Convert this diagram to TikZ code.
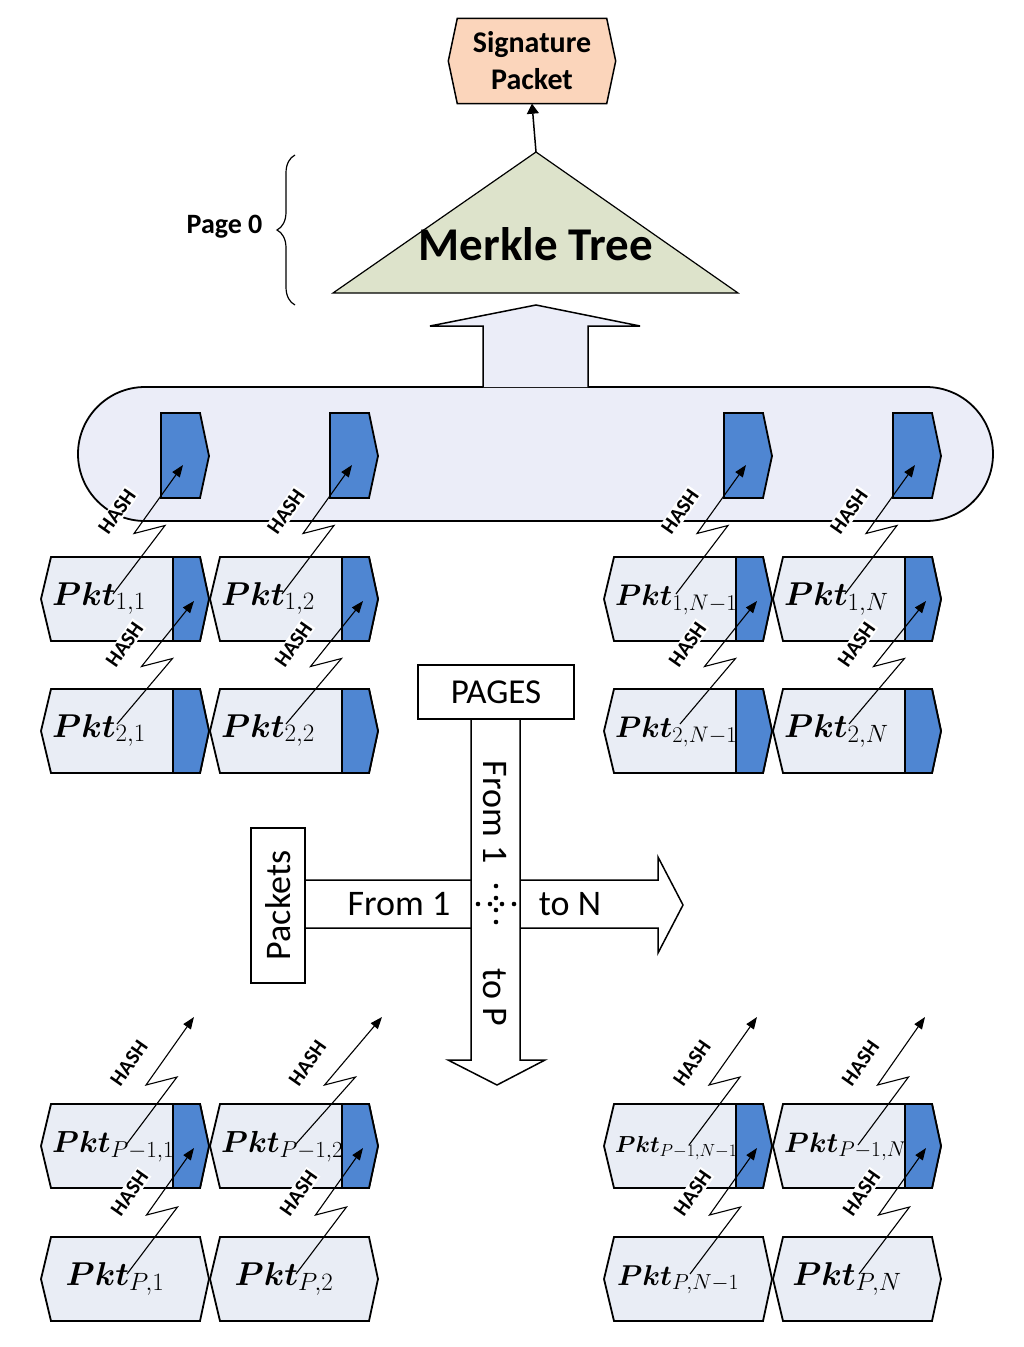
\RequirePackage{fix-cm}
\documentclass[tikz,border=0pt]{standalone}
\usepackage{fontspec}
\setmainfont{Carlito}
\usepackage{bm}
\usetikzlibrary{arrows.meta,calc,decorations.pathreplacing,backgrounds}
\DeclareMathSizes{33}{33}{25}{18}

\definecolor{pktfill}{RGB}{233,237,245}
\definecolor{hashblue}{RGB}{79,134,210}
\definecolor{capsfill}{RGB}{235,237,248}
\definecolor{treefill}{RGB}{221,227,203}
\definecolor{sigfill}{RGB}{251,213,187}

\tikzset{
  pktline/.style={draw, line width=1.8pt},
  pkttext/.style={inner sep=0pt, font=\fontsize{33}{40}\selectfont},
  hashlbl/.style={fill=white, inner sep=1.5pt, rotate=55, font=\bfseries\fontsize{21}{22}\selectfont},
  hash/.style={line width=1.1pt, -{Triangle[length=12pt,width=9pt]}},
  bigarrow/.style={fill=white, line width=1.5pt},
  axistext/.style={inner sep=0pt, font=\fontsize{36}{40}\selectfont}
}

% label of a packet, squeezed when too wide
\newsavebox\pktsave
\newcommand{\pktlbl}[1]{\sbox\pktsave{$\bm{Pkt}_{#1}$}%
  \ifdim\wd\pktsave>122pt\resizebox{122pt}{!}{\usebox\pktsave}\else\usebox\pktsave\fi}

% packet with hash tail: x0, top, name, subscript
\newcommand{\pkt}[4]{%
  \draw[pktline, fill=pktfill] ({#1},{#2+42}) -- ({#1+10},{#2}) -- ({#1+159},{#2}) -- ({#1+168},{#2+42}) -- ({#1+159},{#2+84}) -- ({#1+10},{#2+84}) -- cycle;
  \draw[pktline, fill=hashblue] ({#1+132},{#2}) -- ({#1+159},{#2}) -- ({#1+168},{#2+42}) -- ({#1+159},{#2+84}) -- ({#1+132},{#2+84}) -- cycle;
  \node[pkttext, anchor=base west] (#3) at ({#1+11},{#2+48}) {\pktlbl{#4}};
  \coordinate (#3-h) at ({#1+153},{#2+44});
}
% last packet of a page, no tail
\newcommand{\pktend}[4]{%
  \draw[pktline, fill=pktfill] ({#1},{#2+42}) -- ({#1+10},{#2}) -- ({#1+159},{#2}) -- ({#1+168},{#2+42}) -- ({#1+159},{#2+84}) -- ({#1+10},{#2+84}) -- cycle;
  \node[pkttext, anchor=base] (#3) at ({#1+74},{#2+48}) {\pktlbl{#4}};
}
% zigzag hash arrow with its label
\newcommand{\hasharrow}[2]{%
  \node[hashlbl] (lbl-#1) at ($(#1)!.5!(#2)+(-31,-18)$) {HASH};
  \draw[hash] (#1) -- ($(#1)!.5!(#2)+(17,-4)$) -- ($(#1)!.5!(#2)+(-14,4)$) -- (#2);
}

\begin{document}
\begin{tikzpicture}[x=1pt, y=-1pt]
  \useasboundingbox (0,0) rectangle (1024,1347);

  % signature packet
  \node[minimum width=149pt, minimum height=85pt, inner sep=0pt, align=center,
        font=\bfseries\fontsize{30}{37}\selectfont] (sig) at (532,61) {Signature\\Packet};
  \begin{scope}[on background layer]
    \filldraw[fill=sigfill, line width=1.5pt] (sig.north west) -- (sig.north east) -- ($(sig.east)+(9,0)$)
      -- (sig.south east) -- (sig.south west) -- ($(sig.west)+(-9,0)$) -- cycle;
  \end{scope}

  % merkle tree
  \coordinate (apex) at (536,152);
  \filldraw[fill=treefill, line width=1.2pt] (apex) -- (738,293) -- (333,293) -- cycle;
  \node[font=\bfseries\fontsize{47}{50}\selectfont, anchor=base] (merkle) at (536,260) {Merkle Tree};
  \draw[line width=1.5pt, -{Triangle[length=10pt,width=12pt]}] (apex) -- (sig.south);

  % page 0
  \draw[line width=1.2pt, decorate, decoration={brace, amplitude=18pt}] (295,305) -- (295,155);
  \node[font=\bfseries\fontsize{28}{30}\selectfont, anchor=base east] (page0) at (266,233) {Page 0};

  % hashes of page 1
  \filldraw[fill=capsfill, line width=1.8pt, rounded corners=67pt] (78,387) rectangle (993,521);
  \filldraw[fill=capsfill, line width=1.5pt] (483,387) -- (483,326) -- (430,326) -- (536,305)
    -- (640,326) -- (588,326) -- (588,387);

  % columns of packets
  \foreach \xo/\sub/\n in {41/1/1, 210/2/2, 604/N-1/3, 773/N/4} {
    \draw[pktline, fill=hashblue] (\xo+120,413) -- (\xo+159,413) -- (\xo+168,456) -- (\xo+159,498) -- (\xo+120,498) -- cycle;
    \coordinate (c\n) at (\xo+142,465);
    \pkt{\xo}{557}{p1\n}{1,\sub}
    \pkt{\xo}{689}{p2\n}{2,\sub}
    \pkt{\xo}{1104}{q1\n}{P-1,\sub}
    \pktend{\xo}{1237}{q2\n}{P,\sub}
    \coordinate (s1\n) at (\xo+72,594);
    \coordinate (s2\n) at (\xo+76,724);
    \coordinate (s3\n) at (\xo+85,1145);
    \coordinate (s4\n) at (\xo+86,1274);
  }
  % free ends above page P-1
  \coordinate (t1) at (194,1017);
  \coordinate (t2) at (382,1017);
  \coordinate (t3) at (757,1017);
  \coordinate (t4) at (925,1017);

  \foreach \n in {1,...,4} {
    \hasharrow{s1\n}{c\n}
    \hasharrow{s2\n}{p1\n-h}
    \hasharrow{s3\n}{t\n}
    \hasharrow{s4\n}{q1\n-h}
  }

  % packets axis
  \filldraw[bigarrow] (305,880) -- (658,880) -- (658,857) -- (683,905) -- (658,953) -- (658,928) -- (305,928);
  \node[draw, fill=white, line width=1.5pt, minimum width=155pt, minimum height=54pt, rotate=90,
        font=\fontsize{36}{40}\selectfont] (pkts) at (278,905.5) {Packets};

  % pages axis
  \filldraw[bigarrow] (471,719) -- (471,1060) -- (448,1060) -- (497,1085) -- (545,1060) -- (520,1060) -- (520,719);
  \node[draw, fill=white, line width=1.5pt, minimum width=156pt, minimum height=54pt,
        font=\fontsize{35}{40}\selectfont] (pages) at (496,692) {PAGES};

  \node[axistext, anchor=base] (from1) at (399,915) {From 1};
  \node[axistext, anchor=base] (toN) at (570,915) {to N};
  \node[axistext, rotate=-90] (fromP) at (495,812) {From 1};
  \node[axistext, rotate=-90] (toP) at (495,997) {to P};

  % dots
  \foreach \d in {-18,-6,6,18} {
    \fill (496+\d,904) circle (2.3);
    \fill (496,904+\d) circle (2.3);
  }
\end{tikzpicture}
\end{document}
